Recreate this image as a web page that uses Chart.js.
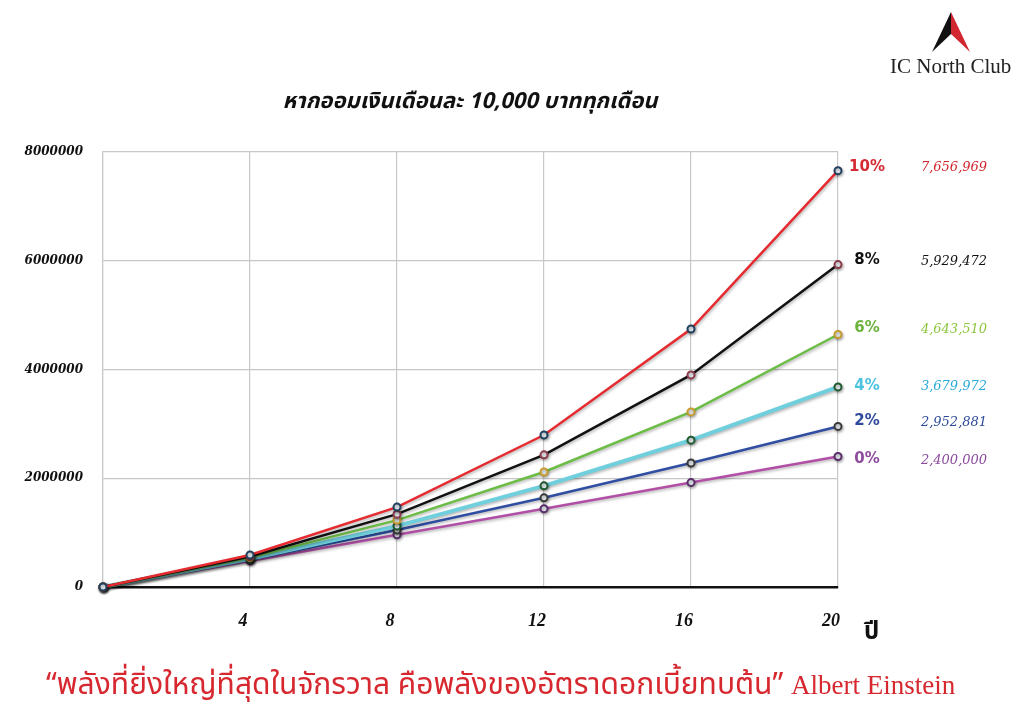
<!DOCTYPE html>
<html>
<head>
<meta charset="utf-8">
<script src="https://cdn.jsdelivr.net/npm/chart.js@4.4.1/dist/chart.umd.min.js"></script>
<style>
  html, body { margin: 0; padding: 0; background: #fff; }
  #wrap { position: relative; width: 1024px; height: 724px; overflow: hidden; }
  #chart { position: absolute; left: 0; top: 0; }
  .title {
    position: absolute; left: 0; width: 940px; top: 85px; text-align: center;
    font: italic bold 22px "Noto Sans Thai", "Noto Serif Thai", "Loma", "Garuda", serif; color: #111;
  }
  .unit {
    position: absolute; left: 864px; top: 614px;
    font: bold 24px "Noto Sans Thai", "Loma", sans-serif; color: #111;
  }
  .quote {
    position: absolute; left: 46px; top: 662px; white-space: nowrap;
    font: 30px "Noto Sans Thai", "Loma", sans-serif; color: #d7282f;
  }
  .quote span { font-family: "Liberation Serif", "DejaVu Serif", serif; font-size: 27px; }
  .logo { position: absolute; left: 928px; top: 10px; }
  .logo-text {
    position: absolute; left: 890px; top: 54px;
    font: 21px "Liberation Serif", "DejaVu Serif", serif; color: #222;
  }
</style>
</head>
<body>
<div id="wrap">
  <canvas id="chart" width="1024" height="724"></canvas>
  <div class="title">หากออมเงินเดือนละ 10,000 บาททุกเดือน</div>
  <div class="unit">ปี</div>
  <div class="quote">“พลังที่ยิ่งใหญ่ที่สุดในจักรวาล คือพลังของอัตราดอกเบี้ยทบต้น” <span>Albert Einstein</span></div>
  <svg class="logo" width="46" height="44" viewBox="0 0 46 44">
    <polygon points="23,2 4,42 23,24" fill="#111"/>
    <polygon points="23,2 23,24 42,42" fill="#d22630"/>
  </svg>
  <div class="logo-text">IC North Club</div>
</div>
<script>
// years saved, monthly 10,000 baht
const years = [0, 4, 8, 12, 16, 20];

const rateLabels = ['10%', '8%', '6%', '4%', '2%', '0%'];
const rate10 = [0, 590000, 1470000, 2795000, 4745000, 7656969];
const rate8  = [0, 560000, 1340000, 2430000, 3900000, 5929472];
const rate6  = [0, 540000, 1230000, 2115000, 3220000, 4643510];
const rate4  = [0, 520000, 1120000, 1860000, 2700000, 3679972];
const rate2  = [0, 500000, 1050000, 1640000, 2280000, 2952881];
const rate0  = [0, 480000, 960000, 1440000, 1920000, 2400000];
const endValueLabels = ['7,656,969', '5,929,472', '4,643,510', '3,679,972', '2,952,881', '2,400,000'];

const yTicks = [0, 2000000, 4000000, 6000000, 8000000];
const xTicks = [4, 8, 12, 16, 20];

const series = [rate10, rate8, rate6, rate4, rate2, rate0];
const lineColors = ['#e52a30', '#111111', '#6cbd45', '#6fcfdc', '#2f4ea2', '#b14fa6'];
const lineWidths = [2.5, 2.5, 2.5, 4, 2.5, 2.5];
const pointBorders = ['#21405e', '#8c3b4b', '#c89b2c', '#1f5a2f', '#3a3a3a', '#5b2e6c'];
const labelColors = ['#d42a33', '#111111', '#6db33f', '#4ec3e0', '#2e4b9b', '#8e4b9e'];
const valueColors = ['#d2232a', '#111111', '#8dc63f', '#29a9d8', '#2e4a9a', '#8a4a9c'];
// small vertical nudges so end labels sit like the original
const labelNudge = [-4, -4, -6, -1, -5, 3];

const datasets = series.map((vals, i) => ({
  label: rateLabels[i],
  data: vals.map((v, j) => ({ x: years[j], y: v })),
  borderColor: lineColors[i],
  borderWidth: lineWidths[i],
  pointRadius: 3.5,
  pointBorderWidth: 2,
  pointBorderColor: pointBorders[i],
  pointBackgroundColor: '#e8eef2',
  tension: 0,
  clip: false
}));

// soft shadow under the lines
const shadowPlugin = {
  id: 'shadow',
  beforeDatasetsDraw(chart) {
    const c = chart.ctx;
    c.save();
    c.shadowColor = 'rgba(0,0,0,0.3)';
    c.shadowBlur = 3;
    c.shadowOffsetX = 1;
    c.shadowOffsetY = 1.5;
  },
  afterDatasetsDraw(chart) {
    chart.ctx.restore();
  }
};

// rate + final value labels at the end of each line
const endLabels = {
  id: 'endLabels',
  afterDraw(chart) {
    const c = chart.ctx;
    c.save();
    c.textBaseline = 'middle';
    c.textAlign = 'center';
    chart.data.datasets.forEach((ds, i) => {
      const meta = chart.getDatasetMeta(i);
      const pt = meta.data[meta.data.length - 1];
      const y = pt.y + labelNudge[i];
      c.font = 'bold 15px "DejaVu Sans", sans-serif';
      c.fillStyle = labelColors[i];
      c.fillText(rateLabels[i], pt.x + 29, y);
      c.font = 'italic 13px "DejaVu Serif", serif';
      c.fillStyle = valueColors[i];
      c.fillText(endValueLabels[i], pt.x + 116, y + 1);
    });
    c.restore();
  }
};

new Chart(document.getElementById('chart'), {
  type: 'line',
  data: { datasets },
  options: {
    responsive: false,
    animation: false,
    layout: { padding: { top: 152, right: 186, left: 0, bottom: 0 } },
    plugins: {
      legend: { display: false },
      tooltip: { enabled: false }
    },
    scales: {
      x: {
        type: 'linear',
        min: 0,
        max: 20,
        afterFit(scale) { scale.height = 137; },
        afterBuildTicks(scale) { scale.ticks = [0].concat(xTicks).map(v => ({ value: v })); },
        ticks: {
          padding: 24,
          labelOffset: -7,
          color: '#111',
          font: { family: '"Liberation Serif", serif', size: 18, style: 'italic', weight: 'bold' },
          callback: v => (v === 0 ? '' : String(v))
        },
        grid: { color: '#c8c8c8', lineWidth: 1.2, drawTicks: false },
        border: { color: '#111', width: 2.5 }
      },
      y: {
        min: 0,
        max: 8000000,
        afterFit(scale) { scale.width = 103; },
        afterBuildTicks(scale) { scale.ticks = yTicks.map(v => ({ value: v })); },
        ticks: {
          padding: 20,
          color: '#111',
          font: { family: '"DejaVu Serif", serif', size: 12, style: 'italic', weight: 'bold' },
          callback: v => String(v)
        },
        grid: { color: '#c8c8c8', lineWidth: 1.2, drawTicks: false },
        border: { color: '#c8c8c8', width: 1.2 }
      }
    }
  },
  plugins: [shadowPlugin, endLabels]
});
</script>
</body>
</html>
